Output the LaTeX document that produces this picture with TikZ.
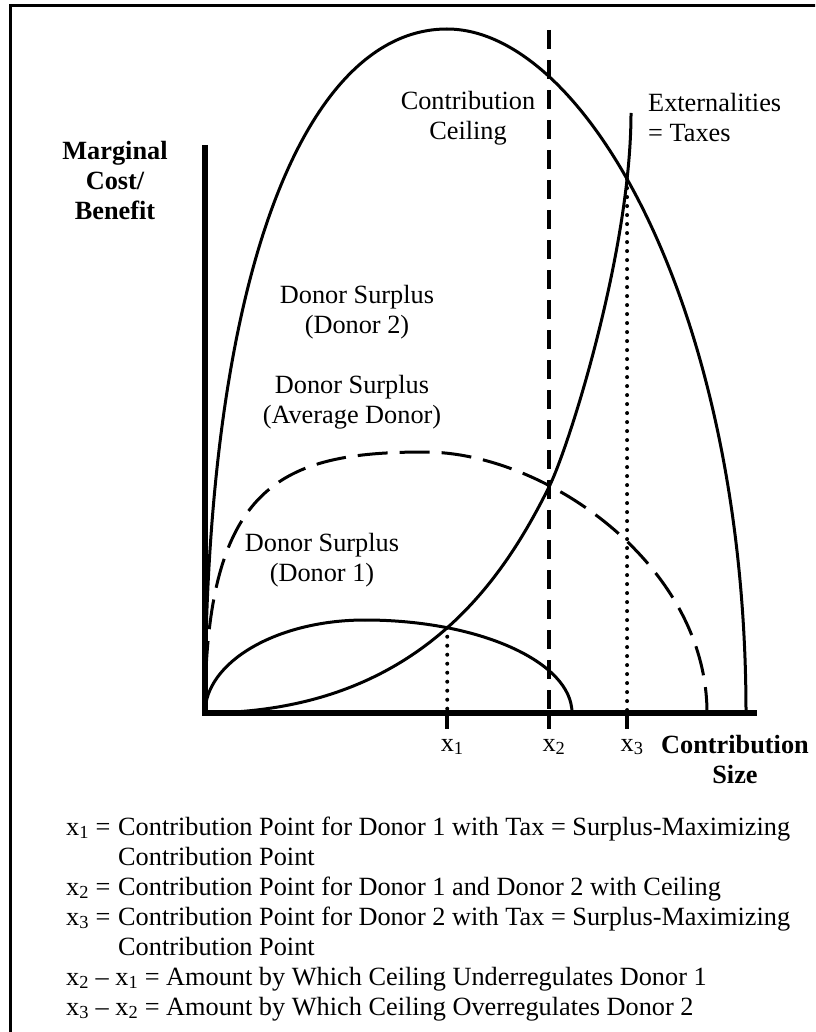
\documentclass[tikz,border=0pt]{standalone}
\usepackage{fontspec}
\setmainfont{Liberation Serif}
\usetikzlibrary{calc,intersections}

\tikzset{
  frame/.style={line width=3pt},
  curve/.style={line width=3pt},
  avgcurve/.style={line width=3pt, dash pattern=on 30pt off 12pt},
  ceilline/.style={line width=4pt, dash pattern=on 19pt off 11pt},
  dotline/.style={line width=4pt, line cap=round, dash pattern=on 0pt off 9pt},
  axisline/.style={line width=6pt},
  tickline/.style={line width=4pt},
  lbl/.style={font=\fontsize{26.3}{30}\selectfont, align=center, inner sep=0pt},
  boldlbl/.style={lbl, font=\fontsize{26.3}{30}\selectfont\bfseries},
  legend/.style={font=\fontsize{26.3}{30}\selectfont, anchor=base west, inner sep=0pt},
}

\begin{document}
\begin{tikzpicture}[x=1pt, y=-1pt]
	\useasboundingbox (0,0) rectangle (815,1032);
	\clip (0,0) rectangle (815,1032);
	\draw[frame] (10,6) rectangle (840,1060);

	% axes corner and ends
	\coordinate (o) at (205,713);
	\coordinate (ytop) at (205,145);
	\coordinate (xend) at (757,713);

	% donor 2
	\draw[curve] (o) .. controls (205,260) and (310,29) .. (447,29);
	\draw[curve, name path=d2r] (447,29) .. controls (585,29) and (746,310) .. (746,713);
	% average donor
	\draw[avgcurve] (o) .. controls (205,485) and (280,452) .. (425,452)
		.. controls (545,452) and (707,565) .. (707,713);
	% donor 1
	\draw[curve] (o) .. controls (205,662) and (277,620) .. (365,620);
	\draw[curve, name path=d1r] (365,620) .. controls (479,620) and (572,662) .. (572,713);
	% externalities
	\draw[curve, name path=ext] (o) .. controls (420,712) and (504,577) .. (549,487)
		.. controls (569,447) and (631,250) .. (631,113);

	% contribution ceiling
	\draw[ceilline] (549,30) -- (549,713);
	\coordinate (i2) at (549,713);

	\path[name intersections={of=d1r and ext, by=i1}];
	\path[name intersections={of=d2r and ext, by=i3}];
	\draw[dotline] (i1) -- (i1 |- o);
	\draw[dotline] (i3) -- (i3 |- o);

	\draw[axisline] (ytop) -- (o) -- (xend);
	\draw[tickline] (i1 |- o) -- ++(0,16);
	\draw[tickline] (i2) -- ++(0,16);
	\draw[tickline] (i3 |- o) -- ++(0,16);

	\node[lbl, anchor=base] (lx1) at ($(i1 |- o)+(5,38)$) {x\textsubscript{1}};
	\node[lbl, anchor=base] (lx2) at ($(i2)+(5,38)$) {x\textsubscript{2}};
	\node[lbl, anchor=base] (lx3) at ($(i3 |- o)+(5,38)$) {x\textsubscript{3}};

	% axis titles
	\node[boldlbl] (ylab) at (115,181) {Marginal\\Cost/\\Benefit};
	\node[boldlbl] (xlab) at (735,759) {Contribution\\Size};

	% curve labels
	\node[lbl] (ceillab) at (468,118) {Contribution\\Ceiling};
	\node[lbl, align=left, anchor=west] (extlab) at (648,118) {Externalities\\= Taxes};
	\node[lbl] (d2lab) at (357,312) {Donor Surplus\\(Donor 2)};
	\node[lbl] (avglab) at (352,402) {Donor Surplus\\(Average Donor)};
	\node[lbl] (d1lab) at (322,560) {Donor Surplus\\(Donor 1)};

	% legend
	\node[legend] (k1) at (66,835) {x\textsubscript{1} =};
	\node[legend] (t1) at (118,835) {Contribution Point for Donor 1 with Tax = Surplus-Maximizing};
	\node[legend] (t1b) at (118,865) {Contribution Point};
	\node[legend] (k2) at (66,895) {x\textsubscript{2} =};
	\node[legend] (t2) at (118,895) {Contribution Point for Donor 1 and Donor 2 with Ceiling};
	\node[legend] (k3) at (66,925) {x\textsubscript{3} =};
	\node[legend] (t3) at (118,925) {Contribution Point for Donor 2 with Tax = Surplus-Maximizing};
	\node[legend] (t3b) at (118,955) {Contribution Point};
	\node[legend] (k4) at (66,985) {x\textsubscript{2} -- x\textsubscript{1} = Amount by Which Ceiling Underregulates Donor 1};
	\node[legend] (k5) at (66,1015) {x\textsubscript{3} -- x\textsubscript{2} = Amount by Which Ceiling Overregulates Donor 2};
\end{tikzpicture}
\end{document}
